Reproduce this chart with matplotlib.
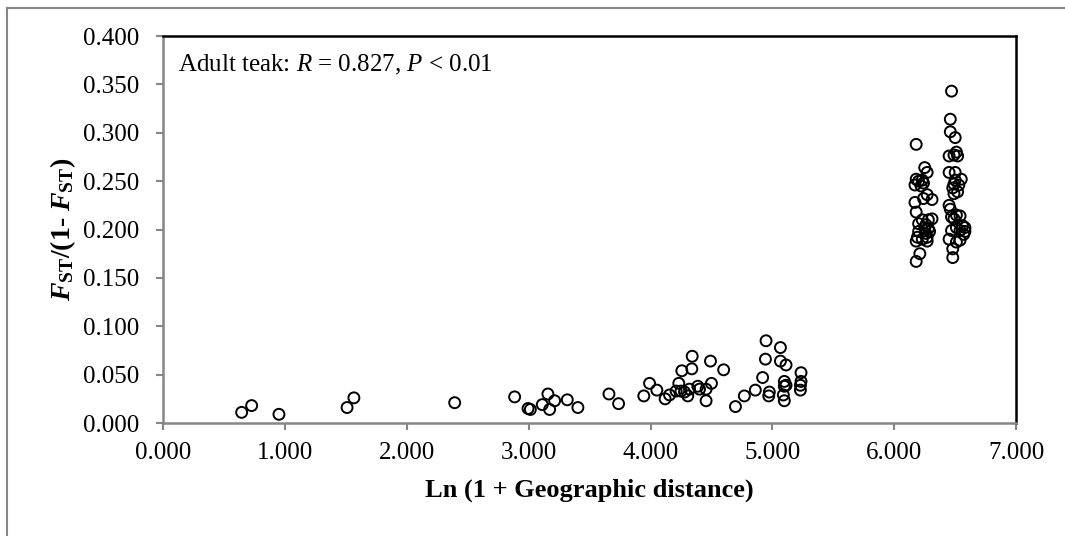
import matplotlib.pyplot as plt
from matplotlib.lines import Line2D

# Fonts: Times-like serif everywhere, mathtext mapped to the same family
plt.rcParams['font.family'] = ['Liberation Serif', 'DejaVu Serif']
plt.rcParams['mathtext.fontset'] = 'custom'
plt.rcParams['mathtext.rm'] = 'Liberation Serif'
plt.rcParams['mathtext.it'] = 'Liberation Serif:italic'
plt.rcParams['mathtext.bf'] = 'Liberation Serif:bold'
plt.rcParams['mathtext.bfit'] = 'Liberation Serif:bold:italic'

# Data: pairs with distance below ~5.3
x_near = [0.645, 0.727, 0.951, 1.51, 1.566, 2.393, 2.885, 2.995, 3.014, 3.112,
          3.158, 3.172, 3.213, 3.317, 3.404, 3.659, 3.738, 3.945, 3.992, 4.052,
          4.12, 4.156, 4.21, 4.232, 4.25, 4.279, 4.306, 4.32, 4.257, 4.339,
          4.342, 4.388, 4.402, 4.456, 4.456, 4.5, 4.492, 4.6, 4.697, 4.77,
          4.86, 4.92, 4.943, 4.948, 4.97, 4.975, 5.066, 5.066, 5.112, 5.098,
          5.098, 5.09, 5.098, 5.112, 5.235, 5.235, 5.23, 5.23]
y_near = [0.011, 0.018, 0.009, 0.016, 0.026, 0.021, 0.027, 0.015, 0.014, 0.019,
          0.030, 0.014, 0.023, 0.024, 0.016, 0.030, 0.020, 0.028, 0.041, 0.034,
          0.025, 0.029, 0.033, 0.041, 0.033, 0.032, 0.028, 0.035, 0.054, 0.056,
          0.069, 0.038, 0.035, 0.035, 0.023, 0.041, 0.064, 0.055, 0.017, 0.028,
          0.034, 0.047, 0.066, 0.085, 0.028, 0.032, 0.078, 0.064, 0.060, 0.043,
          0.038, 0.029, 0.023, 0.039, 0.052, 0.043, 0.039, 0.034]

# cluster around 6.2
x_far_a = [6.18, 6.25, 6.27, 6.18, 6.20, 6.23, 6.17, 6.22, 6.24, 6.27,
           6.24, 6.31, 6.17, 6.18, 6.23, 6.28, 6.31, 6.26, 6.20, 6.25,
           6.28, 6.20, 6.26, 6.29, 6.19, 6.23, 6.27, 6.18, 6.27, 6.21, 6.18]
y_far_a = [0.288, 0.264, 0.259, 0.252, 0.250, 0.251, 0.246, 0.245, 0.248, 0.236,
           0.232, 0.231, 0.228, 0.218, 0.210, 0.210, 0.211, 0.205, 0.206, 0.202,
           0.201, 0.198, 0.196, 0.198, 0.192, 0.190, 0.192, 0.188, 0.188, 0.175, 0.167]

# cluster around 6.5
x_far_b = [6.47, 6.46, 6.46, 6.50, 6.51, 6.49, 6.45, 6.52, 6.45, 6.50,
           6.55, 6.50, 6.49, 6.53, 6.48, 6.52, 6.49, 6.45, 6.46, 6.51,
           6.54, 6.47, 6.49, 6.56, 6.51, 6.54, 6.58, 6.47, 6.45, 6.54,
           6.51, 6.48, 6.48, 6.57, 6.58]
y_far_b = [0.343, 0.314, 0.301, 0.295, 0.280, 0.277, 0.276, 0.276, 0.259, 0.259,
           0.252, 0.251, 0.247, 0.246, 0.243, 0.239, 0.237, 0.225, 0.221, 0.215,
           0.214, 0.213, 0.211, 0.204, 0.202, 0.199, 0.198, 0.199, 0.190, 0.189,
           0.187, 0.180, 0.171, 0.195, 0.202]

x_ticks = [0, 1, 2, 3, 4, 5, 6, 7]
y_ticks = [0, 0.05, 0.1, 0.15, 0.2, 0.25, 0.3, 0.35, 0.4]

fig = plt.figure(figsize=(10.65, 5.36), dpi=100)
ax = fig.add_axes([0.1531, 0.2108, 0.801, 0.722])

for xs, ys in [(x_near, y_near), (x_far_a, y_far_a), (x_far_b, y_far_b)]:
    ax.scatter(xs, ys, s=62, facecolors='none', edgecolors='black',
               linewidths=1.4, zorder=3, clip_on=False)

ax.set_xlim(0, 7)
ax.set_ylim(0, 0.4)
ax.set_xticks(x_ticks)
ax.set_yticks(y_ticks)
ax.set_xticklabels(['%.3f' % v for v in x_ticks])
ax.set_yticklabels(['%.3f' % v for v in y_ticks])
ax.tick_params(axis='both', direction='out', length=5, width=1.5,
               color='#868686', labelsize=18)
ax.tick_params(axis='x', pad=9)
ax.tick_params(axis='y', pad=12)

for s in ['left', 'bottom']:
    ax.spines[s].set_color('#868686')
    ax.spines[s].set_linewidth(1.8)
for s in ['top', 'right']:
    ax.spines[s].set_color('black')
    ax.spines[s].set_linewidth(1.8)

ax.set_xlabel('Ln (1 + Geographic distance)', fontsize=19, fontweight='bold', labelpad=10)
ax.set_ylabel(r'$\mathbfit{F}_{\mathbf{ST}}$/(1- $\mathbfit{F}_{\mathbf{ST}}$)',
              fontsize=20, fontweight='bold', labelpad=4)

ax.text(0.018, 0.925, r'Adult teak: $\mathit{R}$ = 0.827, $\mathit{P}$ < 0.01',
        transform=ax.transAxes, fontsize=18, va='center', ha='left')

# thin gray frame around the chart (left and top edges visible)
fig.add_artist(Line2D([7 / 1065, 7 / 1065], [0, 1 - 8 / 536], color='#868686', lw=1.5))
fig.add_artist(Line2D([7 / 1065, 1], [1 - 8 / 536, 1 - 8 / 536], color='#868686', lw=1.5))

fig.savefig('out.png', dpi=100)
